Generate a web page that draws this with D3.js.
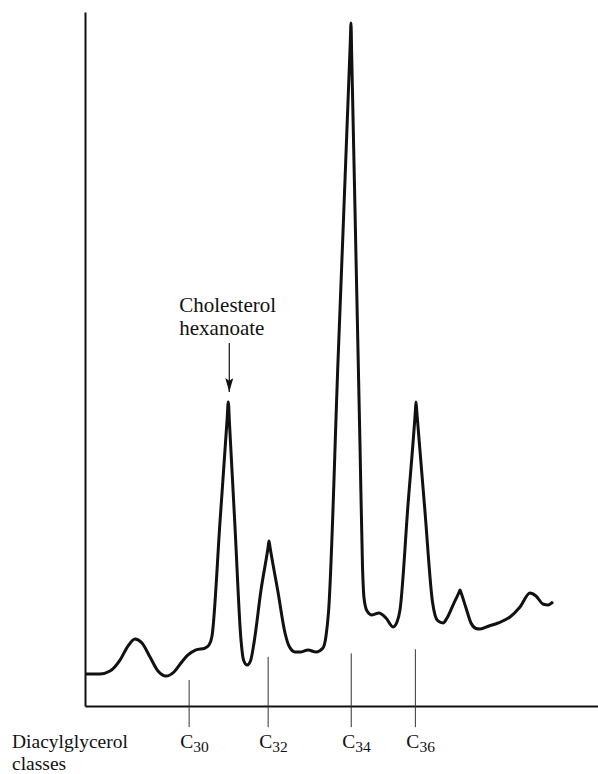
<!DOCTYPE html>
<html>
<head>
<meta charset="utf-8">
<script src="https://cdn.jsdelivr.net/npm/d3@7"></script>
<style>
  body { margin: 0; background: #fff; }
  text { font-family: "Liberation Serif", "Times New Roman", serif; fill: #111; }
</style>
</head>
<body>
<svg class="chart"></svg>
<script>
// retention (arbitrary units) and detector response (% of largest peak)
const time = [0.19, 2.92, 4.87, 6.82, 8.38, 9.75, 11.11, 12.67, 14.23, 15.79, 17.35, 18.71, 20.08, 21.64,
    23.39, 24.17, 24.76, 26.32, 27.72, 27.93, 28.15, 29.24, 30.41, 30.90, 31.58, 32.26, 32.94, 34.31,
    35.67, 35.87, 36.06, 37.62, 38.99, 39.77, 40.94, 42.11, 43.47, 45.03, 46.39, 46.98, 47.47, 49.32,
    51.72, 51.85, 51.97, 52.83, 53.61, 54.09, 54.39, 54.97, 55.95, 57.31, 58.67, 60.04, 60.82, 61.40,
    62.96, 64.39, 64.52, 64.68, 66.28, 67.74, 68.23, 68.81, 69.79, 70.57, 71.83, 72.98, 73.10, 73.22,
    74.27, 75.24, 76.22, 77.00, 78.75, 80.51, 82.85, 84.80, 86.74, 87.91, 89.28, 90.25, 91.23];
const response = [4.69, 4.69, 5.12, 6.73, 8.78, 9.81, 9.22, 7.17, 5.12, 4.39, 4.98, 6.30, 7.47, 8.20,
    8.49, 8.93, 10.25, 27.01, 42.17, 44.51, 41.58, 26.21, 9.66, 6.73, 6.00, 6.59, 9.22, 16.98,
    23.13, 24.16, 23.28, 16.69, 10.69, 8.78, 7.91, 7.91, 8.20, 7.91, 8.49, 10.25, 13.76, 50.51,
    97.36, 100, 95.90, 65.59, 38.07, 20.50, 15.81, 13.91, 13.32, 13.62, 12.88, 11.57, 12.30, 14.06,
    29.43, 43.05, 44.51, 43.05, 28.40, 15.23, 13.32, 12.45, 12.15, 12.88, 14.93, 16.76, 16.98, 16.76,
    14.35, 12.15, 11.35, 11.27, 11.71, 12.15, 13.03, 14.49, 16.54, 16.11, 14.93, 14.79, 15.23];

const classes = ["30", "32", "34", "36"];
const classTime = [20.3, 35.7, 51.9, 64.4];
const classMarkTop = [3.8, 7.2, 7.7, 8.3];

const annotLines = ["Cholesterol", "hexanoate"];
const annotTime = 27.93;
const annotFrom = 53.15, annotTo = 45.97;

const width = 598, height = 774;
const svg = d3.select(".chart").attr("width", width).attr("height", height);

const x = d3.scaleLinear().domain([0, 100]).range([85, 598]);
const y = d3.scaleLinear().domain([0, 101.6]).range([706, 12]);

// axes (plain lines, no ticks)
svg.append("g")
    .attr("transform", `translate(0, ${y(0)})`)
    .call(d3.axisBottom(x).tickValues([]).tickSizeOuter(0))
    .select(".domain").attr("stroke", "#111").attr("stroke-width", 2);
svg.append("g")
    .attr("transform", `translate(${x(0)}, 0)`)
    .call(d3.axisLeft(y).tickValues([]).tickSizeOuter(0))
    .select(".domain").attr("stroke", "#111").attr("stroke-width", 2);

// class markers
svg.selectAll(".mark")
    .data(classTime)
    .enter().append("line")
    .attr("class", "mark")
    .attr("x1", d => x(d)).attr("x2", d => x(d))
    .attr("y1", (d, i) => y(classMarkTop[i]))
    .attr("y2", y(-3.1))
    .attr("stroke", "#333")
    .attr("stroke-width", 1);

const lab = svg.selectAll(".cls")
    .data(classes)
    .enter().append("text")
    .attr("class", "cls")
    .attr("x", (d, i) => x(classTime[i]) - 9)
    .attr("y", 748)
    .style("font-size", "19.5px");
lab.append("tspan").text("C");
lab.append("tspan").attr("dy", 4).style("font-size", "15.5px").text(d => d);

svg.append("text").attr("x", 12).attr("y", 748).style("font-size", "19.5px").text("Diacylglycerol");
svg.append("text").attr("x", 12).attr("y", 770).style("font-size", "19.5px").text("classes");

// chromatogram trace
const pts = time.map((t, i) => [t, response[i]]);
svg.append("path")
    .datum(pts)
    .attr("fill", "none")
    .attr("stroke", "#111")
    .attr("stroke-width", 3)
    .attr("stroke-linejoin", "round")
    .attr("d", d3.line().x(d => x(d[0])).y(d => y(d[1])).curve(d3.curveMonotoneX));

// annotation
svg.append("defs").append("marker")
    .attr("id", "arrow")
    .attr("viewBox", "0 0 10 10")
    .attr("refX", 10).attr("refY", 5)
    .attr("markerWidth", 14).attr("markerHeight", 8)
    .attr("markerUnits", "userSpaceOnUse")
    .attr("orient", "auto")
    .attr("preserveAspectRatio", "none")
    .append("path").attr("d", "M0,0L10,5L0,10L2,5Z").attr("fill", "#111");

svg.append("line")
    .attr("x1", x(annotTime) + 1).attr("x2", x(annotTime) + 1)
    .attr("y1", y(annotFrom)).attr("y2", y(annotTo))
    .attr("stroke", "#111").attr("stroke-width", 1.2)
    .attr("marker-end", "url(#arrow)");

svg.selectAll(".annot")
    .data(annotLines)
    .enter().append("text")
    .attr("class", "annot")
    .attr("x", x(annotTime) - 49)
    .attr("y", (d, i) => 312 + i * 23)
    .style("font-size", "21px")
    .text(d => d);
</script>
</body>
</html>
